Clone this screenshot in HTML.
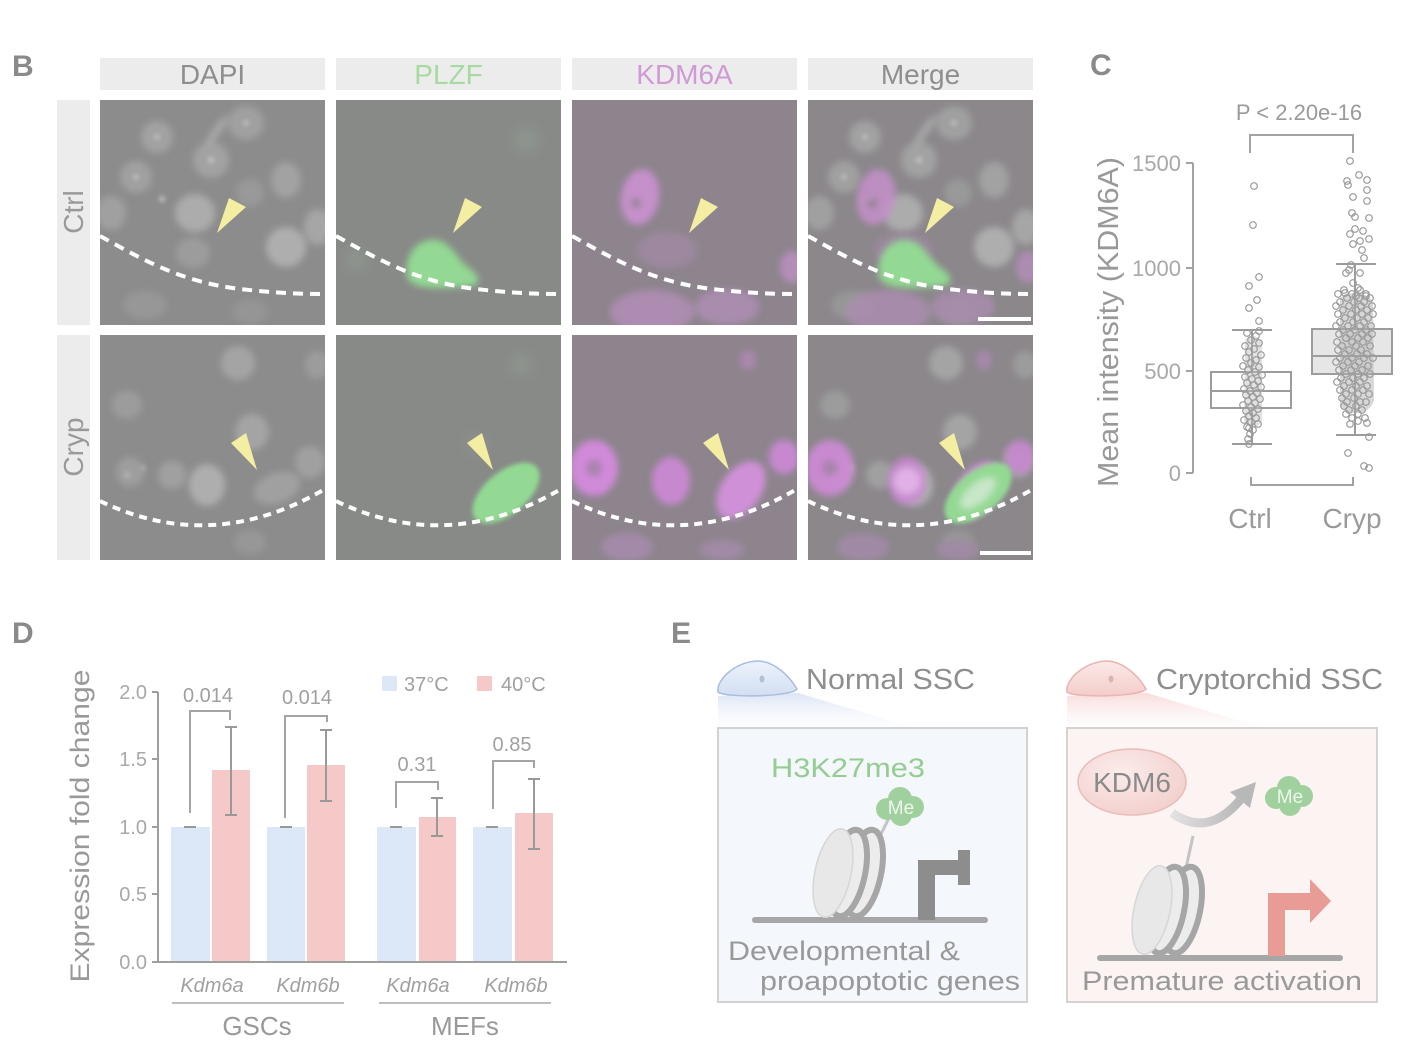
<!DOCTYPE html>
<html><head><meta charset="utf-8"><style>
html,body{margin:0;padding:0;background:#fff;}
svg{display:block;}
</style></head><body>
<svg width="1412" height="1054" viewBox="0 0 1412 1054" xmlns="http://www.w3.org/2000/svg" font-family="'Liberation Sans', Arial, sans-serif">
<defs>
 <filter id="b2" x="-50%" y="-50%" width="200%" height="200%"><feGaussianBlur stdDeviation="2"/></filter>
 <filter id="b3" x="-50%" y="-50%" width="200%" height="200%"><feGaussianBlur stdDeviation="3.5"/></filter>
 <filter id="b6" x="-50%" y="-50%" width="200%" height="200%"><feGaussianBlur stdDeviation="6"/></filter>
 <linearGradient id="wB" x1="0" y1="0" x2="0" y2="1"><stop offset="0" stop-color="#d3dff3"/><stop offset="1" stop-color="#f4f7fc" stop-opacity="0.2"/></linearGradient>
 <linearGradient id="wR" x1="0" y1="0" x2="0" y2="1"><stop offset="0" stop-color="#f6d3d0"/><stop offset="1" stop-color="#fcf2f2" stop-opacity="0.2"/></linearGradient>
 <linearGradient id="cB" x1="0" y1="0" x2="0" y2="1"><stop offset="0" stop-color="#eef3fb"/><stop offset="1" stop-color="#d2def3"/></linearGradient>
 <linearGradient id="cR" x1="0" y1="0" x2="0" y2="1"><stop offset="0" stop-color="#fbe9e8"/><stop offset="1" stop-color="#f3cdca"/></linearGradient>
 <radialGradient id="kd" cx="0.4" cy="0.35" r="0.7"><stop offset="0" stop-color="#fbeceb"/><stop offset="1" stop-color="#f2cfcc"/></radialGradient>
 <linearGradient id="arr" x1="0" y1="0" x2="1" y2="0"><stop offset="0" stop-color="#e2e2e2"/><stop offset="1" stop-color="#b8b8b8"/></linearGradient>

 <g id="n1">
  <g filter="url(#b3)">
   <ellipse cx="57" cy="37" rx="16" ry="16" fill="#a2a2a2"/>
   <ellipse cx="111" cy="60" rx="18" ry="18" fill="#a2a2a2"/>
   <ellipse cx="146" cy="23" rx="18" ry="17" fill="#a0a0a0"/>
   <ellipse cx="36" cy="77" rx="16" ry="16" fill="#a0a0a0"/>
   <ellipse cx="95" cy="113" rx="20" ry="19" fill="#acacac"/>
   <ellipse cx="186" cy="80" rx="15" ry="18" fill="#a2a2a2"/>
   <ellipse cx="186" cy="147" rx="20" ry="20" fill="#aeaeae"/>
   <ellipse cx="11" cy="113" rx="15" ry="17" fill="#a0a0a0"/>
   <ellipse cx="93" cy="153" rx="17" ry="15" fill="#9c9c9c"/>
   <ellipse cx="150" cy="93" rx="14" ry="14" fill="#999"/>
   <ellipse cx="218" cy="127" rx="14" ry="18" fill="#a6a6a6"/>
   <ellipse cx="116" cy="32" rx="4" ry="20" transform="rotate(35 116 32)" fill="#a8a8a8"/>
   <ellipse cx="45" cy="205" rx="22" ry="14" fill="#979797"/>
   <ellipse cx="150" cy="212" rx="18" ry="12" fill="#959595"/>
  </g>
  <g filter="url(#b2)" fill="#bdbdbd">
   <circle cx="57" cy="37" r="3"/><circle cx="111" cy="60" r="3.5"/><circle cx="146" cy="23" r="3"/><circle cx="36" cy="77" r="3"/><circle cx="62" cy="99" r="3"/>
  </g>
 </g>
 <g id="n2">
  <g filter="url(#b3)">
   <ellipse cx="107" cy="150" rx="18" ry="21" fill="#aeaeae"/>
   <ellipse cx="177" cy="153" rx="24" ry="15" transform="rotate(-20 177 153)" fill="#a0a0a0"/>
   <ellipse cx="152" cy="97" rx="17" ry="18" fill="#a4a4a4"/>
   <ellipse cx="138" cy="28" rx="17" ry="17" fill="#a4a4a4"/>
   <ellipse cx="72" cy="140" rx="14" ry="14" fill="#a0a0a0"/>
   <ellipse cx="30" cy="137" rx="14" ry="15" fill="#9e9e9e"/>
   <ellipse cx="27" cy="70" rx="15" ry="14" fill="#9c9c9c"/>
   <ellipse cx="210" cy="127" rx="15" ry="16" fill="#a0a0a0"/>
   <ellipse cx="217" cy="30" rx="12" ry="14" fill="#9c9c9c"/>
   <ellipse cx="150" cy="207" rx="16" ry="12" fill="#979797"/>
  </g>
  <g filter="url(#b2)" fill="#b4b4b4"><circle cx="27" cy="140" r="3"/><circle cx="43" cy="133" r="2.5"/></g>
 </g>
 <g id="m1" filter="url(#b3)">
  <ellipse cx="68" cy="97" rx="19" ry="28" transform="rotate(10 68 97)" fill="#c690cb"/>
  <circle cx="64" cy="103" r="5" fill="#8e848e"/>
  <ellipse cx="80" cy="212" rx="42" ry="22" fill="#ac8cb0"/>
  <ellipse cx="155" cy="207" rx="32" ry="18" fill="#a98cae"/>
  <ellipse cx="220" cy="167" rx="12" ry="16" fill="#b48eb8"/>
  <ellipse cx="95" cy="150" rx="30" ry="18" fill="#9d889f"/>
 </g>
 <g id="m2" filter="url(#b3)">
  <ellipse cx="22" cy="133" rx="24" ry="28" fill="#d08ad8"/>
  <circle cx="22" cy="133" r="8" fill="#a883ad"/>
  <ellipse cx="99" cy="146" rx="19" ry="24" fill="#c888d0"/>
  <ellipse cx="169" cy="155" rx="20" ry="32" transform="rotate(35 169 155)" fill="#d090d8"/>
  <ellipse cx="212" cy="122" rx="15" ry="17" fill="#c888d0"/>
  <ellipse cx="176" cy="25" rx="8" ry="10" fill="#aa88ae"/>
  <ellipse cx="55" cy="212" rx="26" ry="14" fill="#a38aa8"/>
  <ellipse cx="150" cy="215" rx="22" ry="10" fill="#a08aa6"/>
 </g>
 <g id="g1" filter="url(#b3)">
  <path d="M71,176 C68,152 84,138 100,140 C116,142 121,160 133,168 C143,175 147,184 135,186 C115,188 74,192 71,176Z" fill="#93d993"/>
 </g>
 <g id="g2" filter="url(#b2)">
  <ellipse cx="170" cy="158" rx="40" ry="21" transform="rotate(-40 170 158)" fill="#93d993"/>
 </g>
 <path id="d1" d="M0,136 C40,158 80,182 140,189 C175,193 200,194 225,194" fill="none" stroke="#fff" stroke-width="4" stroke-dasharray="10 7"/>
 <path id="d2" d="M0,166 Q112,220 225,154" fill="none" stroke="#fff" stroke-width="4" stroke-dasharray="8 6"/>
 <polygon id="a1" points="117,133 129,98 146,107" fill="#f4eea2"/>
 <polygon id="a2" points="157,135 131,108 146,98" fill="#f4eea2"/>
</defs>

<rect width="1412" height="1054" fill="#fff"/>

<!-- ========== Panel B ========== -->
<text x="12" y="76" font-size="30" font-weight="bold" fill="#8a8a8a">B</text>
<g font-size="28">
 <rect x="100" y="58" width="225" height="32" fill="#ececec"/>
 <text x="212.5" y="84" text-anchor="middle" fill="#8e8e8e">DAPI</text>
 <rect x="336" y="58" width="225" height="32" fill="#ececec"/>
 <text x="448.5" y="84" text-anchor="middle" fill="#a6dba0">PLZF</text>
 <rect x="572" y="58" width="225" height="32" fill="#ececec"/>
 <text x="684.5" y="84" text-anchor="middle" fill="#d09ad6">KDM6A</text>
 <rect x="808" y="58" width="225" height="32" fill="#ececec"/>
 <text x="920.5" y="84" text-anchor="middle" fill="#8e8e8e">Merge</text>
 <rect x="57" y="100" width="33" height="225" fill="#ececec"/>
 <text transform="translate(83,212) rotate(-90)" text-anchor="middle" fill="#999">Ctrl</text>
 <rect x="57" y="335" width="33" height="225" fill="#ececec"/>
 <text transform="translate(83,447) rotate(-90)" text-anchor="middle" fill="#999">Cryp</text>
</g>

<!-- Row 1 -->
<svg x="100" y="100" width="225" height="225">
 <rect width="225" height="225" fill="#8c8c8c"/>
 <use href="#n1"/><use href="#d1"/><use href="#a1"/>
</svg>
<svg x="336" y="100" width="225" height="225">
 <rect width="225" height="225" fill="#888a88"/>
 <g filter="url(#b6)" fill="#8e968e"><circle cx="190" cy="40" r="12"/><circle cx="20" cy="160" r="10"/></g>
 <use href="#g1"/><use href="#d1"/><use href="#a1"/>
</svg>
<svg x="572" y="100" width="225" height="225">
 <rect width="225" height="225" fill="#8d848d"/>
 <use href="#m1"/><use href="#d1"/><use href="#a1"/>
</svg>
<svg x="808" y="100" width="225" height="225">
 <rect width="225" height="225" fill="#8b878b"/>
 <use href="#n1"/><use href="#m1" opacity="0.85"/><use href="#g1"/><use href="#d1"/><use href="#a1"/>
 <rect x="170" y="217" width="53" height="4" fill="#fff"/>
</svg>

<!-- Row 2 -->
<svg x="100" y="335" width="225" height="225">
 <rect width="225" height="225" fill="#8c8c8c"/>
 <use href="#n2"/><use href="#d2"/><use href="#a2"/>
</svg>
<svg x="336" y="335" width="225" height="225">
 <rect width="225" height="225" fill="#888a88"/>
 <g filter="url(#b6)" fill="#8e968e"><circle cx="185" cy="30" r="10"/><circle cx="140" cy="110" r="8"/></g>
 <use href="#g2"/><use href="#d2"/><use href="#a2"/>
</svg>
<svg x="572" y="335" width="225" height="225">
 <rect width="225" height="225" fill="#8d848d"/>
 <use href="#m2"/><use href="#d2"/><use href="#a2"/>
</svg>
<svg x="808" y="335" width="225" height="225">
 <rect width="225" height="225" fill="#8b878b"/>
 <use href="#n2"/><use href="#m2" opacity="0.9"/>
 <g filter="url(#b3)"><circle cx="99" cy="146" r="14" fill="#e0b0e6"/></g>
 <use href="#g2"/>
 <g filter="url(#b3)"><ellipse cx="170" cy="158" rx="22" ry="10" transform="rotate(-40 170 158)" fill="#c8e6c8"/></g>
 <use href="#d2"/><use href="#a2"/>
 <rect x="172" y="216" width="51" height="4" fill="#fff"/>
</svg>

<!-- ========== Panel C ========== -->
<text x="1090" y="75" font-size="30" font-weight="bold" fill="#8a8a8a">C</text>
<text x="1299" y="120" text-anchor="middle" font-size="22" fill="#9a9a9a">P &lt; 2.20e-16</text>
<path d="M1250,153 V135 H1353 V153" stroke="#a2a2a2" stroke-width="2" fill="none"/>
<path d="M1193,163 V473 M1186,163 H1193 M1186,268 H1193 M1186,371 H1193 M1186,473 H1193" stroke="#a2a2a2" stroke-width="2" fill="none"/>
<g font-size="22" fill="#a8a8a8" text-anchor="end">
 <text x="1181" y="171">1500</text>
 <text x="1181" y="276">1000</text>
 <text x="1181" y="379">500</text>
 <text x="1181" y="481">0</text>
</g>
<text transform="translate(1118,322) rotate(-90)" text-anchor="middle" font-size="29" fill="#999" textLength="330" lengthAdjust="spacingAndGlyphs">Mean intensity (KDM6A)</text>

<g stroke="#9c9c9c" stroke-width="2" fill="none">
 <rect x="1211" y="372" width="80" height="36" fill="#fff"/>
 <path d="M1211,391 H1291 M1252,330 V372 M1252,408 V444 M1232,330 H1272 M1232,444 H1272"/>
 <rect x="1312" y="329" width="80" height="45" fill="#e6e6e6"/>
 <path d="M1312,356 H1392 M1355,264 V329 M1355,374 V435 M1336,264 H1376 M1336,435 H1376"/>
</g>
<path d="M1340,298 C1350,290 1368,292 1373,302 L1374,400 C1370,415 1350,418 1340,405 Z" fill="#b0b0b0" opacity="0.5"/>
<path d="M1245,340 C1250,333 1260,335 1262,345 L1262,420 C1258,430 1247,430 1244,420 Z" fill="#bcbcbc" opacity="0.45"/>
<g fill="none" stroke="#9a9a9a" stroke-width="1.2">
 <!-- Ctrl -->
 <circle cx="1254" cy="186" r="3.3"/><circle cx="1253" cy="225" r="3.3"/><circle cx="1259" cy="277" r="3.3"/><circle cx="1249" cy="286" r="3.3"/><circle cx="1257" cy="300" r="3.3"/><circle cx="1249" cy="308" r="3.3"/><circle cx="1259" cy="321" r="3.3"/><circle cx="1259" cy="331" r="3.3"/>
 <circle cx="1247" cy="333" r="3.3"/><circle cx="1256" cy="336" r="3.3"/><circle cx="1251" cy="340" r="3.3"/><circle cx="1259" cy="343" r="3.3"/><circle cx="1245" cy="346" r="3.3"/><circle cx="1254" cy="349" r="3.3"/><circle cx="1249" cy="352" r="3.3"/><circle cx="1261" cy="355" r="3.3"/><circle cx="1246" cy="358" r="3.3"/><circle cx="1256" cy="360" r="3.3"/><circle cx="1251" cy="363" r="3.3"/><circle cx="1243" cy="366" r="3.3"/><circle cx="1259" cy="367" r="3.3"/><circle cx="1248" cy="370" r="3.3"/><circle cx="1255" cy="372" r="3.3"/><circle cx="1262" cy="375" r="3.3"/><circle cx="1245" cy="377" r="3.3"/><circle cx="1252" cy="379" r="3.3"/><circle cx="1258" cy="381" r="3.3"/><circle cx="1247" cy="383" r="3.3"/><circle cx="1254" cy="385" r="3.3"/><circle cx="1261" cy="387" r="3.3"/><circle cx="1244" cy="389" r="3.3"/><circle cx="1250" cy="391" r="3.3"/><circle cx="1257" cy="393" r="3.3"/><circle cx="1246" cy="395" r="3.3"/><circle cx="1253" cy="397" r="3.3"/><circle cx="1260" cy="399" r="3.3"/><circle cx="1248" cy="401" r="3.3"/><circle cx="1255" cy="403" r="3.3"/><circle cx="1243" cy="405" r="3.3"/><circle cx="1251" cy="407" r="3.3"/><circle cx="1258" cy="409" r="3.3"/><circle cx="1246" cy="411" r="3.3"/><circle cx="1253" cy="413" r="3.3"/><circle cx="1249" cy="416" r="3.3"/><circle cx="1256" cy="418" r="3.3"/><circle cx="1244" cy="420" r="3.3"/><circle cx="1251" cy="422" r="3.3"/><circle cx="1258" cy="424" r="3.3"/><circle cx="1247" cy="427" r="3.3"/><circle cx="1253" cy="430" r="3.3"/><circle cx="1249" cy="428" r="3.3"/><circle cx="1250" cy="434" r="3.3"/><circle cx="1248" cy="439" r="3.3"/><circle cx="1249" cy="444" r="3.3"/>
 <!-- Cryp outliers -->
 <circle cx="1350" cy="161" r="3.3"/><circle cx="1359" cy="175" r="3.3"/><circle cx="1367" cy="180" r="3.3"/><circle cx="1347" cy="181" r="3.3"/><circle cx="1348" cy="185" r="3.3"/><circle cx="1367" cy="190" r="3.3"/><circle cx="1353" cy="197" r="3.3"/><circle cx="1367" cy="201" r="3.3"/><circle cx="1352" cy="213" r="3.3"/><circle cx="1355" cy="217" r="3.3"/><circle cx="1369" cy="218" r="3.3"/><circle cx="1355" cy="229" r="3.3"/><circle cx="1363" cy="231" r="3.3"/><circle cx="1350" cy="234" r="3.3"/><circle cx="1369" cy="239" r="3.3"/><circle cx="1360" cy="241" r="3.3"/><circle cx="1353" cy="244" r="3.3"/><circle cx="1362" cy="250" r="3.3"/><circle cx="1364" cy="258" r="3.3"/><circle cx="1351" cy="265" r="3.3"/><circle cx="1349" cy="270" r="3.3"/><circle cx="1360" cy="273" r="3.3"/><circle cx="1346" cy="273" r="3.3"/><circle cx="1353" cy="283" r="3.3"/><circle cx="1345" cy="293" r="3.3"/><circle cx="1358" cy="288" r="3.3"/><circle cx="1366" cy="296" r="3.3"/><circle cx="1356" cy="296" r="3.3"/>
 <circle cx="1358" cy="421" r="3.3"/><circle cx="1367" cy="423" r="3.3"/><circle cx="1369" cy="437" r="3.3"/><circle cx="1348" cy="453" r="3.3"/><circle cx="1364" cy="466" r="3.3"/><circle cx="1369" cy="468" r="3.3"/>
 <!-- Cryp dense -->
 <circle cx="1344" cy="290" r="3.3"/><circle cx="1360" cy="290" r="3.3"/>
 <circle cx="1338" cy="294" r="3.3"/><circle cx="1352" cy="294" r="3.3"/><circle cx="1366" cy="294" r="3.3"/>
 <circle cx="1347" cy="298" r="3.3"/><circle cx="1359" cy="298" r="3.3"/><circle cx="1370" cy="298" r="3.3"/>
 <circle cx="1340" cy="302" r="3.3"/><circle cx="1354" cy="302" r="3.3"/><circle cx="1364" cy="302" r="3.3"/>
 <circle cx="1336" cy="306" r="3.3"/><circle cx="1349" cy="306" r="3.3"/><circle cx="1361" cy="306" r="3.3"/><circle cx="1372" cy="306" r="3.3"/>
 <circle cx="1343" cy="310" r="3.3"/><circle cx="1356" cy="310" r="3.3"/><circle cx="1367" cy="310" r="3.3"/>
 <circle cx="1338" cy="314" r="3.3"/><circle cx="1351" cy="314" r="3.3"/><circle cx="1362" cy="314" r="3.3"/><circle cx="1373" cy="314" r="3.3"/>
 <circle cx="1345" cy="318" r="3.3"/><circle cx="1357" cy="318" r="3.3"/><circle cx="1368" cy="318" r="3.3"/>
 <circle cx="1340" cy="322" r="3.3"/><circle cx="1353" cy="322" r="3.3"/><circle cx="1364" cy="322" r="3.3"/>
 <circle cx="1336" cy="326" r="3.3"/><circle cx="1348" cy="326" r="3.3"/><circle cx="1360" cy="326" r="3.3"/><circle cx="1371" cy="326" r="3.3"/>
 <circle cx="1343" cy="330" r="3.3"/><circle cx="1355" cy="330" r="3.3"/><circle cx="1366" cy="330" r="3.3"/>
 <circle cx="1339" cy="334" r="3.3"/><circle cx="1350" cy="334" r="3.3"/><circle cx="1362" cy="334" r="3.3"/><circle cx="1372" cy="334" r="3.3"/>
 <circle cx="1346" cy="338" r="3.3"/><circle cx="1358" cy="338" r="3.3"/><circle cx="1368" cy="338" r="3.3"/>
 <circle cx="1337" cy="342" r="3.3"/><circle cx="1352" cy="342" r="3.3"/><circle cx="1363" cy="342" r="3.3"/>
 <circle cx="1342" cy="346" r="3.3"/><circle cx="1356" cy="346" r="3.3"/><circle cx="1370" cy="346" r="3.3"/>
 <circle cx="1338" cy="350" r="3.3"/><circle cx="1349" cy="350" r="3.3"/><circle cx="1361" cy="350" r="3.3"/>
 <circle cx="1345" cy="354" r="3.3"/><circle cx="1357" cy="354" r="3.3"/><circle cx="1367" cy="354" r="3.3"/>
 <circle cx="1340" cy="358" r="3.3"/><circle cx="1352" cy="358" r="3.3"/><circle cx="1364" cy="358" r="3.3"/><circle cx="1373" cy="358" r="3.3"/>
 <circle cx="1336" cy="362" r="3.3"/><circle cx="1348" cy="362" r="3.3"/><circle cx="1359" cy="362" r="3.3"/>
 <circle cx="1343" cy="366" r="3.3"/><circle cx="1355" cy="366" r="3.3"/><circle cx="1368" cy="366" r="3.3"/>
 <circle cx="1339" cy="370" r="3.3"/><circle cx="1351" cy="370" r="3.3"/><circle cx="1362" cy="370" r="3.3"/>
 <circle cx="1346" cy="374" r="3.3"/><circle cx="1358" cy="374" r="3.3"/><circle cx="1370" cy="374" r="3.3"/>
 <circle cx="1341" cy="378" r="3.3"/><circle cx="1353" cy="378" r="3.3"/><circle cx="1364" cy="378" r="3.3"/>
 <circle cx="1337" cy="382" r="3.3"/><circle cx="1349" cy="382" r="3.3"/><circle cx="1360" cy="382" r="3.3"/>
 <circle cx="1344" cy="386" r="3.3"/><circle cx="1356" cy="386" r="3.3"/><circle cx="1367" cy="386" r="3.3"/>
 <circle cx="1340" cy="390" r="3.3"/><circle cx="1352" cy="390" r="3.3"/><circle cx="1363" cy="390" r="3.3"/>
 <circle cx="1346" cy="394" r="3.3"/><circle cx="1358" cy="394" r="3.3"/><circle cx="1369" cy="394" r="3.3"/>
 <circle cx="1342" cy="398" r="3.3"/><circle cx="1354" cy="398" r="3.3"/>
 <circle cx="1347" cy="402" r="3.3"/><circle cx="1360" cy="402" r="3.3"/><circle cx="1366" cy="402" r="3.3"/>
 <circle cx="1344" cy="406" r="3.3"/><circle cx="1356" cy="406" r="3.3"/>
 <circle cx="1349" cy="410" r="3.3"/><circle cx="1362" cy="410" r="3.3"/>
 <circle cx="1346" cy="414" r="3.3"/><circle cx="1358" cy="414" r="3.3"/>
 <circle cx="1352" cy="418" r="3.3"/><circle cx="1365" cy="418" r="3.3"/>
 <circle cx="1350" cy="424" r="3.3"/>
</g>
<path d="M1251,477 V485 H1353 V477" stroke="#a2a2a2" stroke-width="2" fill="none"/>
<g font-size="28" fill="#9a9a9a" text-anchor="middle">
 <text x="1250" y="528">Ctrl</text>
 <text x="1352" y="528">Cryp</text>
</g>

<!-- ========== Panel D ========== -->
<text x="12" y="643" font-size="30" font-weight="bold" fill="#8a8a8a">D</text>
<text transform="translate(89,826) rotate(-90)" text-anchor="middle" font-size="27" fill="#999" textLength="313" lengthAdjust="spacingAndGlyphs">Expression fold change</text>
<g font-size="20" fill="#a8a8a8" text-anchor="end">
 <text x="147" y="699">2.0</text>
 <text x="147" y="766">1.5</text>
 <text x="147" y="834">1.0</text>
 <text x="147" y="901">0.5</text>
 <text x="147" y="969">0.0</text>
</g>
<g>
 <rect x="171" y="827" width="39" height="135" fill="#dce7f8"/>
 <rect x="212" y="770" width="38" height="192" fill="#f6c9c9"/>
 <rect x="267" y="827" width="38" height="135" fill="#dce7f8"/>
 <rect x="307" y="765" width="38" height="197" fill="#f6c9c9"/>
 <rect x="377" y="827" width="39" height="135" fill="#dce7f8"/>
 <rect x="419" y="817" width="37" height="145" fill="#f6c9c9"/>
 <rect x="473" y="827" width="39" height="135" fill="#dce7f8"/>
 <rect x="515" y="813" width="38" height="149" fill="#f6c9c9"/>
</g>
<path d="M158,692 V962 H567 M152,692 H158 M152,759 H158 M152,827 H158 M152,894 H158 M152,962 H158" stroke="#9e9e9e" stroke-width="2" fill="none"/>
<g stroke="#999" stroke-width="2" fill="none">
 <path d="M231,727 V815 M225,727 H237 M225,815 H237"/>
 <path d="M326,730 V801 M320,730 H332 M320,801 H332"/>
 <path d="M437,798 V836 M431,798 H443 M431,836 H443"/>
 <path d="M534,779 V849 M528,779 H540 M528,849 H540"/>
 <path d="M184,827 H196 M280,827 H292 M390,827 H402 M486,827 H498"/>
</g>
<g stroke="#a4a4a4" stroke-width="2" fill="none">
 <path d="M190,813 V711 H230 V720"/>
 <path d="M285,818 V716 H327 V722"/>
 <path d="M396,808 V782 H438 V790"/>
 <path d="M493,809 V761 H534 V768"/>
</g>
<g font-size="20" fill="#a0a0a0" text-anchor="middle">
 <text x="208" y="702">0.014</text>
 <text x="307" y="704">0.014</text>
 <text x="417" y="771">0.31</text>
 <text x="512" y="751">0.85</text>
</g>
<rect x="382" y="676" width="15" height="15" fill="#dce7f8"/>
<text x="404" y="691" font-size="20" fill="#a0a0a0">37°C</text>
<rect x="477" y="676" width="15" height="15" fill="#f6c9c9"/>
<text x="501" y="691" font-size="20" fill="#a0a0a0">40°C</text>
<g font-size="20" font-style="italic" fill="#a0a0a0" text-anchor="middle">
 <text x="212" y="992">Kdm6a</text>
 <text x="308" y="992">Kdm6b</text>
 <text x="418" y="992">Kdm6a</text>
 <text x="516" y="992">Kdm6b</text>
</g>
<path d="M172,1003 H344 M379,1003 H551" stroke="#a8a8a8" stroke-width="1.5"/>
<g font-size="26" fill="#999" text-anchor="middle">
 <text x="257" y="1035">GSCs</text>
 <text x="465" y="1035">MEFs</text>
</g>

<!-- ========== Panel E ========== -->
<text x="671" y="643" font-size="30" font-weight="bold" fill="#8a8a8a">E</text>
<!-- left -->
<polygon points="718,696 798,693 915,728 718,728" fill="url(#wB)" opacity="0.8"/>
<path d="M718,692 C716,680 735,662 757,661 C775,661 790,677 797,689 C792,697 725,698 718,692 Z" fill="url(#cB)" stroke="#a9bde0" stroke-width="1.5"/>
<ellipse cx="762" cy="679" rx="2.5" ry="3.5" fill="#b3bfd3"/>
<text x="806" y="689" font-size="29" fill="#8e8e8e" textLength="169" lengthAdjust="spacingAndGlyphs">Normal SSC</text>
<rect x="718" y="728" width="309" height="274" fill="#f4f7fc" stroke="#d2d2d2" stroke-width="2"/>
<text x="771" y="777" font-size="27" fill="#94cc92" textLength="154" lengthAdjust="spacingAndGlyphs">H3K27me3</text>
<path d="M878,840 L889,818" stroke="#c4c4c4" stroke-width="3"/>
<g fill="#9fd09d">
 <circle cx="887" cy="809" r="11"/><circle cx="900" cy="799" r="12"/><circle cx="913" cy="807" r="11"/><circle cx="901" cy="815" r="11"/>
</g>
<text x="901" y="814" font-size="19" fill="#eef7ee" text-anchor="middle">Me</text>
<path d="M755,920 H985" stroke="#a6a6a6" stroke-width="6" fill="none" stroke-linecap="round"/>
<ellipse cx="864" cy="873" rx="17" ry="44" transform="rotate(12 864 873)" fill="#ececec" stroke="#a6a6a6" stroke-width="6"/>
<ellipse cx="848" cy="873" rx="17" ry="44" transform="rotate(12 848 873)" fill="#ececec" stroke="#a6a6a6" stroke-width="6"/>
<ellipse cx="833" cy="873" rx="18" ry="45" transform="rotate(12 833 873)" fill="#e8e8e8" stroke="#d6d6d6" stroke-width="1.5"/>
<path d="M918,920 V860 H958 V850 H970 V885 H958 V875 H935 V920 Z" fill="#8d8d8d"/>
<text x="728" y="960" font-size="27" fill="#999" textLength="232" lengthAdjust="spacingAndGlyphs">Developmental &amp;</text>
<text x="760" y="990" font-size="27" fill="#999" textLength="260" lengthAdjust="spacingAndGlyphs">proapoptotic genes</text>

<!-- right -->
<polygon points="1067,696 1147,693 1264,728 1067,728" fill="url(#wR)" opacity="0.8"/>
<path d="M1067,692 C1065,680 1084,662 1106,661 C1124,661 1139,677 1146,689 C1141,697 1074,698 1067,692 Z" fill="url(#cR)" stroke="#ebb3ae" stroke-width="1.5"/>
<ellipse cx="1111" cy="679" rx="2.5" ry="3.5" fill="#d9b5b2"/>
<text x="1156" y="689" font-size="29" fill="#8e8e8e" textLength="227" lengthAdjust="spacingAndGlyphs">Cryptorchid SSC</text>
<rect x="1067" y="728" width="310" height="274" fill="#fcf3f3" stroke="#d6d2d2" stroke-width="2"/>
<ellipse cx="1132" cy="782" rx="54" ry="33" fill="url(#kd)" stroke="#e8bcb8" stroke-width="1.5"/>
<text x="1132" y="792" font-size="28" fill="#8a8a8a" text-anchor="middle">KDM6</text>
<path d="M1172,813 Q1208,838 1240,800" stroke="url(#arr)" stroke-width="9" fill="none"/>
<polygon points="1230,792 1256,782 1250,808" fill="#b8b8b8"/>
<g fill="#9fd09d">
 <circle cx="1276" cy="798" r="11"/><circle cx="1289" cy="788" r="12"/><circle cx="1302" cy="796" r="11"/><circle cx="1290" cy="805" r="11"/>
</g>
<text x="1290" y="803" font-size="19" fill="#eef7ee" text-anchor="middle">Me</text>
<path d="M1186,868 L1193,836" stroke="#c4c4c4" stroke-width="3"/>
<path d="M1100,958 H1340" stroke="#a6a6a6" stroke-width="6" fill="none" stroke-linecap="round"/>
<ellipse cx="1183" cy="910" rx="17" ry="44" transform="rotate(12 1183 910)" fill="#ececec" stroke="#a6a6a6" stroke-width="6"/>
<ellipse cx="1167" cy="910" rx="17" ry="44" transform="rotate(12 1167 910)" fill="#ececec" stroke="#a6a6a6" stroke-width="6"/>
<ellipse cx="1152" cy="910" rx="18" ry="45" transform="rotate(12 1152 910)" fill="#e8e8e8" stroke="#d6d6d6" stroke-width="1.5"/>
<path d="M1268,956 V893 H1310 V879 L1331,901 L1310,923 V910 H1285 V956 Z" fill="#e89c95"/>
<text x="1082" y="990" font-size="27" fill="#999" textLength="280" lengthAdjust="spacingAndGlyphs">Premature activation</text>
</svg>
</body></html>
